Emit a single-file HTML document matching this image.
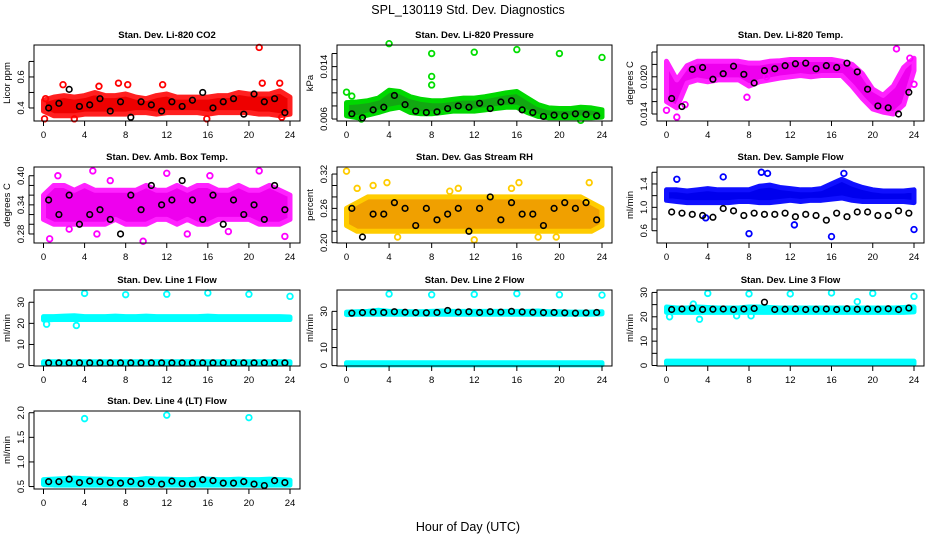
<!DOCTYPE html>
<html><head><meta charset="utf-8">
<style>
html,body{margin:0;padding:0;background:#fff;}
svg{display:block;font-family:"Liberation Sans",Arial,sans-serif;}
</style></head>
<body>
<svg id="chart" width="936" height="540" viewBox="0 0 936 540" xmlns="http://www.w3.org/2000/svg">
<text x="468" y="14" text-anchor="middle" font-size="12.5">SPL_130119  Std. Dev. Diagnostics</text>
<text x="468" y="531" text-anchor="middle" font-size="12.5">Hour of Day (UTC)</text>
</svg>
<script>
const hours=[0,1,2,3,4,5,6,7,8,9,10,11,12,13,14,15,16,17,18,19,20,21,22,23,24];
const blkTimes=[0.5,1.5,2.5,3.5,4.5,5.5,6.5,7.5,8.5,9.5,10.5,11.5,12.5,13.5,14.5,15.5,16.5,17.5,18.5,19.5,20.5,21.5,22.5,23.5];
const xTicks=[0,4,8,12,16,20,24];

// Panel 1 CO2
const co2Lo=[0.38,0.35,0.35,0.35,0.36,0.36,0.36,0.36,0.36,0.37,0.37,0.36,0.37,0.37,0.37,0.37,0.36,0.37,0.37,0.37,0.37,0.36,0.36,0.35,0.36];
const co2Hi=[0.45,0.47,0.48,0.47,0.48,0.50,0.48,0.48,0.49,0.47,0.46,0.48,0.49,0.47,0.47,0.47,0.47,0.48,0.48,0.50,0.49,0.49,0.49,0.51,0.47];
const co2OutT=[21,1.9,7.3,11.6,21.3,23,8.2,5.4,0.2,0.1,3,15.9,23.2];
const co2OutV=[0.79,0.55,0.56,0.55,0.56,0.56,0.55,0.54,0.46,0.33,0.33,0.33,0.34];
const co2Blk=[0.40,0.43,0.52,0.41,0.42,0.46,0.38,0.44,0.34,0.44,0.42,0.38,0.44,0.41,0.45,0.50,0.40,0.44,0.46,0.36,0.49,0.44,0.46,0.37];
// Panel 2 Pressure
const prLo=[0.0065,0.0062,0.0066,0.0070,0.0075,0.0078,0.0070,0.0068,0.0068,0.0070,0.0072,0.0072,0.0072,0.0074,0.0076,0.0078,0.0078,0.0070,0.0064,0.0062,0.0062,0.0062,0.0062,0.0062,0.0063];
const prHi=[0.0085,0.0086,0.0088,0.0092,0.0104,0.0102,0.0094,0.0090,0.0088,0.0088,0.0090,0.0092,0.0092,0.0094,0.0097,0.0100,0.0102,0.0092,0.0082,0.0077,0.0076,0.0076,0.0078,0.0077,0.0074];
const prOutT=[4,8,8,8,12,16,20,24,0,0.5,22,1.4];
const prOutV=[0.0175,0.0160,0.0125,0.0112,0.0162,0.0166,0.0160,0.0154,0.0101,0.0095,0.0058,0.0060];
const prBlk=[0.0068,0.0062,0.0074,0.0078,0.0096,0.0082,0.0072,0.0070,0.0071,0.0076,0.0080,0.0078,0.0084,0.0076,0.0086,0.0088,0.0074,0.0070,0.0064,0.0066,0.0065,0.0068,0.0067,0.0065];
// Panel 3 Li temp
const ltLo=[0.0160,0.0150,0.0190,0.0195,0.0192,0.0195,0.0195,0.0195,0.0185,0.0192,0.0195,0.0198,0.0200,0.0202,0.0200,0.0202,0.0202,0.0202,0.0185,0.0165,0.0148,0.0143,0.0140,0.0155,0.0210];
const ltHi=[0.0225,0.0195,0.0218,0.0225,0.0225,0.0225,0.0225,0.0225,0.0222,0.0222,0.0225,0.0226,0.0228,0.0228,0.0228,0.0228,0.0228,0.0225,0.0220,0.0205,0.0180,0.0170,0.0185,0.0215,0.0230];
const ltOutT=[0,1,22.3,23.6,24,7.8,1.8,9.7];
const ltOutV=[0.0146,0.0135,0.0245,0.0230,0.0188,0.0167,0.0155,0.0200];
const ltBlk=[0.0165,0.0152,0.0212,0.0215,0.0196,0.0205,0.0217,0.0204,0.0190,0.0210,0.0213,0.0218,0.0221,0.0222,0.0213,0.0218,0.0215,0.0222,0.0208,0.0180,0.0153,0.0150,0.0140,0.0175];
// Panel 4 Amb box temp
const abLo=[0.31,0.30,0.30,0.30,0.30,0.30,0.30,0.31,0.30,0.30,0.30,0.31,0.31,0.30,0.31,0.30,0.30,0.31,0.31,0.31,0.31,0.30,0.30,0.30,0.31];
const abHi=[0.36,0.38,0.38,0.37,0.38,0.37,0.37,0.37,0.37,0.37,0.38,0.37,0.37,0.38,0.37,0.38,0.38,0.37,0.37,0.38,0.37,0.37,0.38,0.37,0.36];
const abOutT=[0.6,1.4,4.8,9.7,12,14,21,23.5,2.5,5.2,18,16.2,6.5];
const abOutV=[0.27,0.40,0.41,0.265,0.405,0.28,0.41,0.275,0.29,0.28,0.285,0.40,0.39];
const abBlk=[0.35,0.32,0.36,0.30,0.32,0.33,0.31,0.28,0.36,0.33,0.38,0.34,0.35,0.39,0.35,0.31,0.36,0.30,0.35,0.32,0.34,0.31,0.38,0.33];
// Panel 5 Gas stream RH
const rhLo=[0.23,0.22,0.22,0.22,0.22,0.22,0.22,0.22,0.22,0.22,0.22,0.22,0.22,0.22,0.22,0.22,0.22,0.22,0.22,0.22,0.22,0.22,0.22,0.22,0.23];
const rhHi=[0.26,0.27,0.28,0.28,0.28,0.28,0.28,0.28,0.28,0.28,0.28,0.28,0.28,0.28,0.28,0.28,0.28,0.28,0.28,0.28,0.28,0.28,0.28,0.27,0.26];
const rhOutT=[0,1,2.5,3.8,4.8,9.7,15.5,16.2,22.8,19.7,18,10.5,12];
const rhOutV=[0.325,0.295,0.30,0.305,0.21,0.29,0.295,0.305,0.305,0.21,0.21,0.295,0.205];
const rhBlk=[0.26,0.21,0.25,0.25,0.27,0.26,0.23,0.26,0.24,0.25,0.26,0.22,0.26,0.28,0.24,0.27,0.25,0.25,0.23,0.26,0.27,0.26,0.27,0.24];
// Panel 6 Sample flow
const sfLo=[1.12,1.10,1.08,1.08,1.08,1.08,1.08,1.10,1.10,1.08,1.08,1.10,1.12,1.10,1.12,1.12,1.14,1.16,1.12,1.10,1.10,1.10,1.10,1.10,1.08];
const sfHi=[1.30,1.30,1.28,1.30,1.32,1.30,1.30,1.30,1.30,1.36,1.38,1.34,1.32,1.30,1.30,1.32,1.40,1.48,1.40,1.34,1.30,1.28,1.28,1.28,1.30];
const sfOutT=[1,5.5,8,9.2,9.8,16,17.2,12.4,24,3.8];
const sfOutV=[1.48,1.52,0.55,1.60,1.58,0.50,1.58,0.70,0.62,0.82];
const sfBlk=[0.92,0.90,0.88,0.86,0.83,0.98,0.94,0.86,0.90,0.88,0.88,0.90,0.84,0.88,0.86,0.78,0.90,0.84,0.92,0.92,0.86,0.86,0.94,0.90];
// Panel 7 Line 1 flow
const l1Lo=[21.6,21.8,21.8,21.8,21.8,21.8,21.8,21.8,21.8,21.8,21.8,21.8,21.8,21.8,21.8,21.8,21.8,21.8,21.8,21.8,21.8,21.8,21.8,21.8,21.8];
const l1Hi=[23.2,23.2,23.4,23.6,23.2,23.2,23.2,23.4,23.2,23.2,23.4,23.2,23.2,23.2,23.2,23.2,23.4,23.2,23.2,23.2,23.2,23.2,23.2,23.2,23.0];
const l1LoB=[0.8,0.8,0.8,0.8,0.8,0.8,0.8,0.8,0.8,0.8,0.8,0.8,0.8,0.8,0.8,0.8,0.8,0.8,0.8,0.8,0.8,0.8,0.8,0.8,0.8];
const l1HiB=[1.8,1.8,1.8,1.8,1.8,1.8,1.8,1.8,1.8,1.8,1.8,1.8,1.8,1.8,1.8,1.8,1.8,1.8,1.8,1.8,1.8,1.8,1.8,1.8,1.8];
const l1OutT=[4,8,12,16,20,24,0.3,3.2];
const l1OutV=[34.2,33.6,33.8,34.4,33.8,32.8,19.6,19.0];
const l1Blk=[1.3,1.3,1.3,1.3,1.3,1.3,1.3,1.3,1.3,1.3,1.3,1.3,1.3,1.3,1.3,1.3,1.3,1.3,1.3,1.3,1.3,1.3,1.3,1.3];
// Panel 8 Line 2 flow
const l2Lo=[28.2,28.4,28.4,28.4,28.4,28.4,28.4,28.4,28.4,28.4,28.4,28.4,28.4,28.4,28.4,28.4,28.4,28.4,28.4,28.4,28.4,28.4,28.4,28.4,28.6];
const l2Hi=[29.6,29.8,30.0,30.6,30.0,30.0,29.8,29.8,30.0,30.2,30.0,30.0,30.0,30.0,30.0,30.0,30.0,30.0,30.2,29.8,29.8,29.6,29.6,29.6,29.8];
const l2LoB=[0.4,0.4,0.4,0.4,0.4,0.4,0.4,0.4,0.4,0.4,0.4,0.4,0.4,0.4,0.4,0.4,0.4,0.4,0.4,0.4,0.4,0.4,0.4,0.4,0.4];
const l2HiB=[1.6,1.6,1.6,1.6,1.6,1.6,1.6,1.6,1.6,1.6,1.6,1.6,1.6,1.6,1.6,1.6,1.6,1.6,1.6,1.6,1.6,1.6,1.6,1.6,1.6];
const l2OutT=[4,8,12,16,20,24];
const l2OutV=[39.6,39.2,39.4,39.8,39.2,39.0];
const l2Blk=[29.0,29.3,29.6,29.4,29.8,29.5,29.3,29.2,29.4,30.5,29.6,29.8,29.4,29.8,29.6,30.0,29.7,29.5,29.3,29.4,29.2,29.0,29.2,29.4];
// Panel 9 Line 3 flow
const l3Lo=[21.8,21.8,21.8,21.8,21.8,21.8,21.8,21.8,21.8,21.8,21.8,21.8,21.8,21.8,21.8,21.8,21.8,21.8,21.8,21.8,21.8,21.8,21.8,21.8,22.0];
const l3Hi=[24.0,23.6,23.6,24.0,23.8,23.6,23.6,23.6,24.0,24.0,23.8,23.6,23.6,23.6,23.6,23.6,23.6,23.6,23.6,23.6,23.6,23.6,23.6,23.8,24.0];
const l3LoB=[0.6,0.6,0.6,0.6,0.6,0.6,0.6,0.6,0.6,0.6,0.6,0.6,0.6,0.6,0.6,0.6,0.6,0.6,0.6,0.6,0.6,0.6,0.6,0.6,0.6];
const l3HiB=[1.8,1.8,1.8,1.8,1.8,1.8,1.8,1.8,1.8,1.8,1.8,1.8,1.8,1.8,1.8,1.8,1.8,1.8,1.8,1.8,1.8,1.8,1.8,1.8,1.8];
const l3OutT=[4,8,12,16,20,24,0.3,3.2,2.6,18.5,6.8,8.2];
const l3OutV=[29.6,29.4,29.4,29.8,29.6,28.4,20.0,19.0,25.2,26.2,20.4,20.4];
const l3Blk=[23.0,23.2,23.5,23.0,23.1,23.2,23.0,23.2,23.4,26.0,23.0,23.1,23.2,23.0,23.1,23.2,23.0,23.3,23.1,23.2,23.1,23.3,23.0,23.6];
// Panel 10 Line 4 flow
const l4Lo=[0.54,0.53,0.53,0.53,0.53,0.53,0.53,0.53,0.53,0.53,0.53,0.53,0.53,0.53,0.53,0.53,0.53,0.53,0.53,0.53,0.53,0.52,0.53,0.53,0.53];
const l4Hi=[0.64,0.65,0.66,0.67,0.66,0.65,0.65,0.64,0.64,0.64,0.66,0.65,0.65,0.64,0.64,0.65,0.65,0.64,0.64,0.65,0.64,0.64,0.65,0.64,0.63];
const l4OutT=[4,12,20];
const l4OutV=[1.88,1.95,1.90];
const l4Blk=[0.60,0.60,0.65,0.58,0.61,0.60,0.58,0.57,0.60,0.56,0.60,0.55,0.61,0.56,0.55,0.64,0.62,0.57,0.57,0.60,0.55,0.52,0.62,0.58];

// y-axis ticks and labels
const co2Ticks=[0.4,0.5,0.6,0.7], co2Labels=['0.4','','0.6',''];
const prTicks=[0.006,0.008,0.010,0.012,0.014,0.016], prLabels=['0.006','','','','0.014',''];
const ltTicks=[0.014,0.016,0.018,0.020,0.022,0.024], ltLabels=['0.014','','','0.020','',''];
const abTicks=[0.28,0.30,0.32,0.34,0.36,0.38,0.40], abLabels=['0.28','','','0.34','','','0.40'];
const rhTicks=[0.20,0.22,0.24,0.26,0.28,0.30,0.32], rhLabels=['0.20','','','0.26','','','0.32'];
const sfTicks=[0.6,0.8,1.0,1.2,1.4,1.6], sfLabels=['0.6','','1.0','','1.4',''];
const l1Ticks=[0,10,20,30], l1Labels=['0','10','20','30'];
const l2Ticks=[0,10,20,30], l2Labels=['0','10','','30'];
const l3Ticks=[0,5,10,15,20,25,30], l3Labels=['0','','10','','20','','30'];
const l4Ticks=[0.5,1.0,1.5,2.0], l4Labels=['0.5','1.0','1.5','2.0'];

const NS='http://www.w3.org/2000/svg';
const svg=document.getElementById('chart');
function mk(tag,attrs,parent){const e=document.createElementNS(NS,tag);for(const k in attrs)e.setAttribute(k,attrs[k]);(parent||svg).appendChild(e);return e;}

function panel(p){
  const g=mk('g',{});
  
  
  const L=p.box[0],R=p.box[1],T=p.box[2],B=p.box[3];
  const x0=L+9.5,x24=R-10;
  const sx=v=>x0+(v/24)*(x24-x0);
  const sy=v=>B-(v-p.ymin)/(p.ymax-p.ymin)*(B-T);
  const ttl=mk('text',{x:(L+R)/2,y:T-7,'text-anchor':'middle','font-size':'9.5','font-weight':'bold'},g);
  ttl.textContent=p.title;
  
  
  // bands
  p.bands.forEach(b=>{
    let pts=[];
    for(let i=0;i<hours.length;i++)pts.push(sx(hours[i])+','+sy(b.hi[i]));
    for(let i=hours.length-1;i>=0;i--)pts.push(sx(hours[i])+','+sy(b.lo[i]));
    const poly=mk('polygon',{points:pts.join(' '),fill:b.fill,stroke:b.stroke,'stroke-width':5,'stroke-linejoin':'round'},g);
    
    
  });
  // colored outliers
  for(let i=0;i<p.outT.length;i++){
    const c=mk('circle',{cx:sx(p.outT[i]),cy:sy(p.outV[i]),r:2.8,fill:'none',stroke:p.color,'stroke-width':1.8},g);
    
    
  }
  // black points
  for(let i=0;i<p.blk.length;i++){
    const c=mk('circle',{cx:sx(blkTimes[i]),cy:sy(p.blk[i]),r:2.8,fill:'none',stroke:'#000','stroke-width':1.6},g);
    
    
  }
  // box
  const box=mk('rect',{x:L,y:T,width:R-L,height:B-T,fill:'none',stroke:'#000','stroke-width':1},g);
  
  
  // x axis
  xTicks.forEach(t=>{
    mk('line',{x1:sx(t),x2:sx(t),y1:B,y2:B+5,stroke:'#000'},g);
    const tl=mk('text',{x:sx(t),y:B+17,'text-anchor':'middle','font-size':'9.5'},g);
    tl.textContent=t;
    
    
  });
  // y axis
  const yt=p.ticks.filter(t=>sy(t)>=T-0.5&&sy(t)<=B+0.5);
  mk('line',{x1:L-5,x2:L-5,y1:sy(yt[0]),y2:sy(yt[yt.length-1]),stroke:'#000'},g);
  p.ticks.forEach((t,i)=>{
    const y=sy(t); if(y<T-0.5||y>B+0.5)return;
    mk('line',{x1:L-5,x2:L,y1:y,y2:y,stroke:'#000'},g);
    if(p.labels[i]){
      const tl=mk('text',{x:0,y:0,'text-anchor':'middle','font-size':'9.5',transform:`translate(${L-10},${y}) rotate(-90)`},g);
      tl.textContent=p.labels[i];
      
      
    }
  });
  const yl=mk('text',{x:0,y:0,'text-anchor':'middle','font-size':'9.5',transform:`translate(${L-24},${(T+B)/2}) rotate(-90)`},g);
  yl.textContent=p.ylab;
  
  
}

const C1=[34,300],C2=[337,612],C3=[657,924];
const R1=[45,121],R2=[167,243],R3=[290,366],R4=[411,489];
panel({name:'panel-co2',title:'Stan. Dev. Li-820 CO2',ylab:'Licor ppm',box:[...C1,...R1],ymin:0.316,ymax:0.806,ticks:co2Ticks,labels:co2Labels,color:'#ff0000',bands:[{lo:co2Lo,hi:co2Hi,fill:'#ee0000',stroke:'#ff2020'}],outT:co2OutT,outV:co2OutV,blk:co2Blk});
panel({name:'panel-pressure',title:'Stan. Dev. Li-820 Pressure',ylab:'kPa',box:[...C2,...R1],ymin:0.0057,ymax:0.0173,ticks:prTicks,labels:prLabels,color:'#00dd00',bands:[{lo:prLo,hi:prHi,fill:'#12a812',stroke:'#00d800'}],outT:prOutT,outV:prOutV,blk:prBlk});
panel({name:'panel-li820-temp',title:'Stan. Dev. Li-820 Temp.',ylab:'degrees C',box:[...C3,...R1],ymin:0.01287,ymax:0.02513,ticks:ltTicks,labels:ltLabels,color:'#ff00ff',bands:[{lo:ltLo,hi:ltHi,fill:'#ee00ee',stroke:'#ff22ff'}],outT:ltOutT,outV:ltOutV,blk:ltBlk});
panel({name:'panel-amb-box-temp',title:'Stan. Dev. Amb. Box Temp.',ylab:'degrees C',box:[...C1,...R2],ymin:0.2614,ymax:0.418,ticks:abTicks,labels:abLabels,color:'#ff00ff',bands:[{lo:abLo,hi:abHi,fill:'#ee00ee',stroke:'#ff22ff'}],outT:abOutT,outV:abOutV,blk:abBlk});
panel({name:'panel-gas-rh',title:'Stan. Dev. Gas Stream RH',ylab:'percent',box:[...C2,...R2],ymin:0.1995,ymax:0.3323,ticks:rhTicks,labels:rhLabels,color:'#ffcc00',bands:[{lo:rhLo,hi:rhHi,fill:'#f0a000',stroke:'#ffcc00'}],outT:rhOutT,outV:rhOutV,blk:rhBlk});
panel({name:'panel-sample-flow',title:'Stan. Dev. Sample Flow',ylab:'ml/min',box:[...C3,...R2],ymin:0.39,ymax:1.69,ticks:sfTicks,labels:sfLabels,color:'#0000ff',bands:[{lo:sfLo,hi:sfHi,fill:'#0000ee',stroke:'#1010ff'}],outT:sfOutT,outV:sfOutV,blk:sfBlk});
panel({name:'panel-line1-flow',title:'Stan. Dev. Line 1 Flow',ylab:'ml/min',box:[...C1,...R3],ymin:-0.2,ymax:35.8,ticks:l1Ticks,labels:l1Labels,color:'#00ffff',bands:[{lo:l1Lo,hi:l1Hi,fill:'#00f0f0',stroke:'#00ffff'},{lo:l1LoB,hi:l1HiB,fill:'#00f0f0',stroke:'#00ffff'}],outT:l1OutT,outV:l1OutV,blk:l1Blk});
panel({name:'panel-line2-flow',title:'Stan. Dev. Line 2 Flow',ylab:'ml/min',box:[...C2,...R3],ymin:-0.2,ymax:41.8,ticks:l2Ticks,labels:l2Labels,color:'#00ffff',bands:[{lo:l2Lo,hi:l2Hi,fill:'#00f0f0',stroke:'#00ffff'},{lo:l2LoB,hi:l2HiB,fill:'#00f0f0',stroke:'#00ffff'}],outT:l2OutT,outV:l2OutV,blk:l2Blk});
panel({name:'panel-line3-flow',title:'Stan. Dev. Line 3 Flow',ylab:'ml/min',box:[...C3,...R3],ymin:-0.2,ymax:31.0,ticks:l3Ticks,labels:l3Labels,color:'#00ffff',bands:[{lo:l3Lo,hi:l3Hi,fill:'#00f0f0',stroke:'#00ffff'},{lo:l3LoB,hi:l3HiB,fill:'#00f0f0',stroke:'#00ffff'}],outT:l3OutT,outV:l3OutV,blk:l3Blk});
panel({name:'panel-line4-flow',title:'Stan. Dev. Line 4 (LT) Flow',ylab:'ml/min',box:[...C1,...R4],ymin:0.45,ymax:2.035,ticks:l4Ticks,labels:l4Labels,color:'#00ffff',bands:[{lo:l4Lo,hi:l4Hi,fill:'#00f0f0',stroke:'#00ffff'}],outT:l4OutT,outV:l4OutV,blk:l4Blk});
</script>
</body></html>
